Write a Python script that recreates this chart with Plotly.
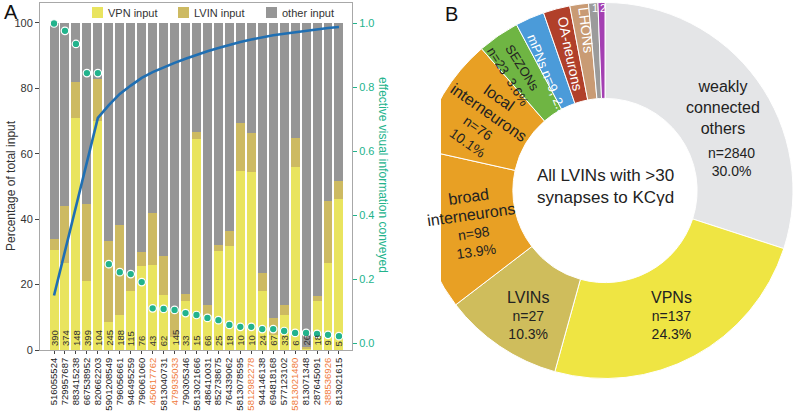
import plotly.graph_objects as go

# ---------------- Panel A data ----------------
neuron_ids = ["516055524", "729957687", "883415238", "667538952", "820662203",
              "5901208549", "796056661", "946495259", "796061060", "450617762",
              "5813040731", "479935033", "790305346", "5813021666", "486410031",
              "852738675", "764339062", "5813078595", "5812982278", "944146138",
              "694818168", "577123102", "5813021480", "813071348", "287645091",
              "388536926", "813021615"]
highlighted = ["450617762", "479935033", "5812982278", "5813021480", "388536926"]
synapse_counts = [390, 374, 148, 399, 104, 245, 188, 115, 76, 43, 62, 145, 33, 15,
                  66, 25, 18, 10, 10, 24, 67, 33, 6, 26, 18, 9, 5]
vpn_input = [30.5, 26.6, 71.0, 21.0, 70.0, 8.6, 10.7, 18.0, 25.7, 26.0, 16.8, 4.0, 15.0,
             64.5, 10.7, 30.4, 31.9, 54.8, 54.5, 18.1, 4.6, 10.7, 56.0, 0.5, 15.0, 26.5, 46.2]
lvin_input = [3.5, 17.4, 11.0, 23.5, 13.0, 24.7, 27.5, 5.2, 4.3, 16.0, 11.9, 8.2, 2.0,
              2.2, 3.1, 1.6, 4.5, 14.6, 11.8, 5.5, 5.2, 3.1, 8.8, 0.5, 1.5, 19.1, 5.5]
other_input = [66.0, 56.0, 18.0, 55.5, 17.0, 66.7, 61.8, 76.8, 70.0, 58.0, 71.3, 87.8, 83.0,
               33.3, 86.2, 68.0, 63.6, 30.6, 33.7, 76.4, 90.2, 86.2, 35.2, 99.0, 83.5, 54.4, 48.3]
effective_info = [1.0, 0.977, 0.936, 0.845, 0.845, 0.248, 0.223, 0.217, 0.192, 0.11,
                  0.108, 0.105, 0.095, 0.089, 0.08, 0.073, 0.058, 0.052, 0.052, 0.045,
                  0.045, 0.039, 0.033, 0.033, 0.03, 0.027, 0.023]
cumulative_info = [0.15, 0.29, 0.43, 0.57, 0.705, 0.745, 0.78, 0.806, 0.83, 0.848,
                   0.863, 0.877, 0.89, 0.902, 0.913, 0.923, 0.933, 0.942, 0.95, 0.957,
                   0.963, 0.968, 0.973, 0.978, 0.982, 0.986, 0.989]
series_names = ["VPN input", "LVIN input", "other input"]
left_ticks = [0, 20, 40, 60, 80, 100]
right_ticks = [0.0, 0.2, 0.4, 0.6, 0.8, 1.0]

# ---------------- Panel B data ----------------
slice_names = ["weakly connected others", "VPNs", "LVINs", "broad interneurons",
               "local interneurons", "SEZONs", "mPNs", "OA-neurons", "LHONs", "1", "2"]
slice_pct = [30.0, 24.3, 10.3, 13.9, 10.1, 3.6, 2.5, 2.3, 1.6, 0.8, 0.6]
slice_n = [2840, 137, 27, 98, 76, 23, 9, None, None, None, None]
slice_colors = ["#e4e5e7", "#efe543", "#cfbd5c", "#e8a024", "#e8a024", "#6fb543",
                "#4b9bd9", "#b1402a", "#c99b74", "#9b9b9b", "#a43fb2"]
center_text = "All LVINs with >30<br>synapses to KCγd"

FONT = "Liberation Sans, Arial, sans-serif"
W, H = 798, 417
SERIES_COLORS = ["#e9e45f", "#cdba62", "#969696"]
C_TEAL = "#22b38c"
C_BLUE = "#1f6fb3"


def px(x, y):
    return x / W, 1 - y / H


fig = go.Figure()
xs = list(range(len(neuron_ids)))
for vals, name, col in zip([vpn_input, lvin_input, other_input], series_names, SERIES_COLORS):
    fig.add_trace(go.Bar(x=xs, y=vals, name=name, marker_color=col,
                         marker_line_width=0, showlegend=False))
fig.add_trace(go.Scatter(x=xs, y=cumulative_info, yaxis="y2", mode="lines",
                         line=dict(color=C_BLUE, width=2.6), showlegend=False))
fig.add_trace(go.Scatter(x=xs, y=effective_info, yaxis="y2", mode="markers",
                         marker=dict(color=C_TEAL, size=7.5,
                                     line=dict(color="white", width=1.2)),
                         showlegend=False))

ticktext = [f"<span style='color:#f07a3a'>{t}</span>" if t in highlighted else t
            for t in neuron_ids]

fig.add_trace(go.Pie(values=slice_pct, labels=slice_names, sort=False,
                     direction="clockwise", rotation=0, hole=0.49,
                     marker=dict(colors=slice_colors, line=dict(color="white", width=1)),
                     textinfo="none", showlegend=False, hoverinfo="skip",
                     domain=dict(x=[(605 - 188) / W, (605 + 188) / W],
                                 y=[1 - 378.5 / H, 1 - 2.5 / H])))

fig.update_layout(
    width=W, height=H, margin=dict(l=0, r=0, t=0, b=0, autoexpand=False),
    paper_bgcolor="white", plot_bgcolor="white",
    font=dict(family=FONT, color="#333333"),
    barmode="stack", bargap=0.18, showlegend=False,
    xaxis=dict(domain=[40 / W, 352 / W], range=[-1.28, 27.19],
               tickvals=xs, ticktext=ticktext, tickangle=-90,
               tickfont=dict(size=9.5, color="#222"), ticks="outside", ticklen=3,
               tickcolor="#444", showline=True, linecolor="#a8a8a8", linewidth=1,
               mirror=True, showgrid=False, zeroline=False, automargin=False),
    yaxis=dict(domain=[1 - 350 / H, 1 - 3 / H], range=[0, 106.1],
               tickvals=left_ticks, tickfont=dict(size=11, color="#333"),
               ticks="outside", ticklen=4, tickcolor="#444",
               showline=True, linecolor="#a8a8a8", linewidth=1, mirror=True,
               showgrid=False, zeroline=False, automargin=False),
    yaxis2=dict(overlaying="y", side="right", range=[-0.0203, 1.064],
                tickvals=right_ticks, ticktext=[f"{v:.1f}" for v in right_ticks],
                tickfont=dict(size=11, color=C_TEAL), ticks="outside", ticklen=4,
                tickcolor=C_TEAL, showline=False, showgrid=False, zeroline=False,
                automargin=False),
)

ann = []


def pann(text, x, y, size=14, color="#222", angle=0, xanchor="center"):
    xx, yy = px(x, y)
    ann.append(dict(text=text, x=xx, y=yy, xref="paper", yref="paper", showarrow=False,
                    xanchor=xanchor, yanchor="middle", textangle=angle,
                    font=dict(size=size, color=color, family=FONT)))


# white mask that cuts the left side of the donut (drawn first, under other labels)
ann.append(dict(text=" ", x=418 / W, y=0.5, xref="paper", yref="paper", showarrow=False,
                width=46, height=H, bgcolor="white", borderpad=0, borderwidth=0))

# panel letters and axis titles
pann("A", 2, 12, size=20, color="#111", xanchor="left")
pann("B", 443, 14, size=20, color="#111", xanchor="left")
pann("Percentage of total input", 11, 186, size=12, color="#333", angle=-90)
pann("effective visual information conveyed", 383, 175, size=12, color=C_TEAL, angle=90)

# manual legend
legend_x = [92, 178, 266]
for name, col, lx in zip(series_names, SERIES_COLORS, legend_x):
    fig.add_shape(type="rect", xref="paper", yref="paper", x0=lx / W, x1=(lx + 11) / W,
                  y0=1 - 18 / H, y1=1 - 7 / H, fillcolor=col, line_width=0)
    pann(name, lx + 14, 12.5, size=11, color="#333", xanchor="left")

# synapse count labels inside bars
for i, c in enumerate(synapse_counts):
    ann.append(dict(text=str(c), x=i, y=0.6, xref="x", yref="y", yanchor="bottom",
                    xanchor="center", textangle=-90, showarrow=False,
                    font=dict(size=9.5, color="#333")))

# pie labels
big = "<span style='font-size:16px'>{}</span>"
pann("weakly<br>connected<br>others", 723, 108, size=16)
pann(f"n={slice_n[0]}<br>{slice_pct[0]:.1f}%", 731, 162)
pann(big.format("VPNs") + f"<br>n={slice_n[1]}<br>{slice_pct[1]:.1f}%", 671, 315)
pann(big.format("LVINs") + f"<br>n={slice_n[2]}<br>{slice_pct[2]:.1f}%", 528, 315)
pann(big.format("broad") + "<br>" + big.format("interneurons") +
     f"<br>n={slice_n[3]}<br>{slice_pct[3]:.1f}%", 472, 224, angle=-8)
pann(big.format("local") + "<br>" + big.format("interneurons") +
     f"<br>n={slice_n[4]}<br>{slice_pct[4]:.1f}%", 483, 120, angle=35)
pann(f"SEZONs<br>n={slice_n[5]}  {slice_pct[5]:.1f}%", 515, 72, size=13, angle=58)
pann(f"mPNs n={slice_n[6]}, {slice_pct[6]:.1f}%", 550, 80, size=13, color="white", angle=68)
pann("OA-neurons", 570, 53, size=14, color="white", angle=78)
pann("LHONs", 586, 30, size=14, color="white", angle=83)
pann("1", 595, 8, size=11, color="white")
pann("2", 603, 8, size=11, color="white")
pann(center_text, 605, 186, size=17)

fig.update_layout(annotations=ann)

fig.write_html("out.html", config={"displayModeBar": False},
               post_script="document.body.style.margin='0px';")
